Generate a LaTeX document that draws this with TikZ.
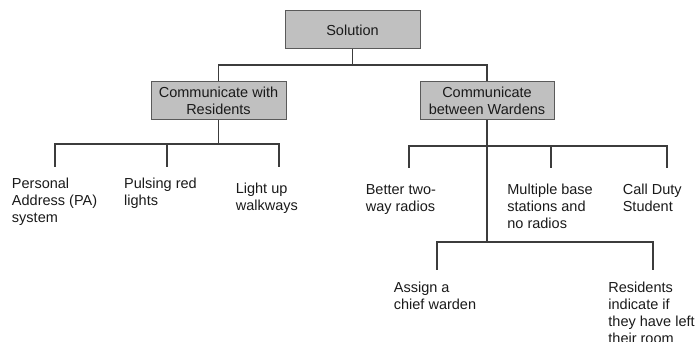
\documentclass[tikz,border=0pt]{standalone}
\usepackage{fontspec}
\setmainfont{Liberation Sans}
\definecolor{boxfill}{HTML}{C0C0C0}
\definecolor{boxdraw}{HTML}{5A5A5A}
\definecolor{linec}{HTML}{3C3C3C}
\definecolor{txt}{HTML}{1A1A1A}
\newcommand{\lf}[1]{\begin{tabular}[t]{@{}l@{}}#1\end{tabular}}
\begin{document}
\begin{tikzpicture}[x=1pt,y=-1pt,
  every node/.style={font=\fontsize{14.5}{17}\selectfont, text=txt},
  gbox/.style={draw=boxdraw, fill=boxfill, line width=1pt, inner sep=0pt, align=center, minimum height=38pt},
  leaf/.style={anchor=base west, inner sep=0pt},
  conn/.style={draw=linec, line width=1.1pt}]
\useasboundingbox (0,0) rectangle (696,342);
% boxes
\node[gbox, minimum width=135pt] (sol) at (352.5,30) {Solution};
\node[gbox, minimum width=135pt] (res) at (218.5,100.5) {Communicate with\\Residents};
\node[gbox, minimum width=134pt] (war) at (487,100.5) {Communicate\\between Wardens};
% junction coordinates
\coordinate (topL) at (218.5,65);
\coordinate (topR) at (487,65);
\coordinate (jL) at (218.5,144);
\coordinate (jR) at (487,146);
\coordinate (jR2) at (487,242);
\coordinate (a1) at (55,167);
\coordinate (a2) at (167,167);
\coordinate (a3) at (279,167);
\coordinate (b1) at (409,168);
\coordinate (b2) at (551,168);
\coordinate (b3) at (667,168);
\coordinate (c1) at (437,270);
\coordinate (c2) at (653,270);
% leaves
\node[leaf] (l1) at (11.8,188.5) {\lf{Personal\\Address (PA)\\system}};
\node[leaf] (l2) at (124,188.5) {\lf{Pulsing red\\lights}};
\node[leaf] (l3) at (235.6,193.5) {\lf{Light up\\walkways}};
\node[leaf] (r1) at (365.6,194) {\lf{Better two-\\way radios}};
\node[leaf] (r2) at (507.2,194) {\lf{Multiple base\\stations and\\no radios}};
\node[leaf] (r3) at (622.6,194) {\lf{Call Duty\\Student}};
\node[leaf] (s1) at (393.7,292) {\lf{Assign a\\chief warden}};
\node[leaf] (s2) at (608.2,292) {\lf{Residents\\indicate if\\they have left\\their room}};
% connectors
\draw[conn] (sol.south) |- (topL) -- (res.north);
\draw[conn] (sol.south) |- (topR) -- (war.north);
\draw[conn] (res.south) -- (jL);
\draw[conn] (jL) -| (a1);
\draw[conn] (jL) -| (a2);
\draw[conn] (jL) -| (a3);
\draw[conn] (war.south) -- (jR2);
\draw[conn] (jR) -| (b1);
\draw[conn] (jR) -| (b2);
\draw[conn] (jR) -| (b3);
\draw[conn] (jR2) -| (c1);
\draw[conn] (jR2) -| (c2);
\end{tikzpicture}
\end{document}
